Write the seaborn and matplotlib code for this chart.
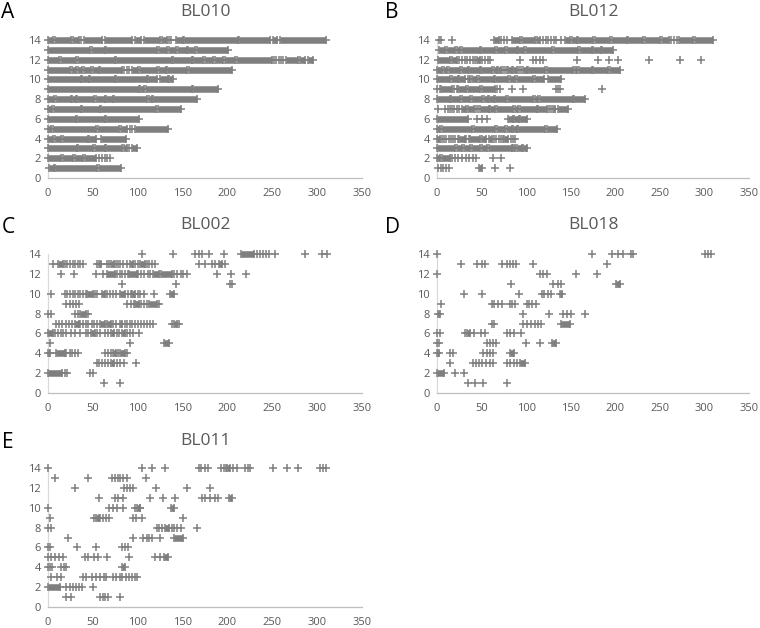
import matplotlib
matplotlib.use("Agg")
import matplotlib.pyplot as plt
import pandas as pd
import seaborn as sns

# ---------------- data ----------------
panel_titles = ["BL010", "BL012", "BL002", "BL018", "BL011"]
panel_letters = ["A", "B", "C", "D", "E"]
x_ticks = [0, 50, 100, 150, 200, 250, 300, 350]
y_ticks = [0, 2, 4, 6, 8, 10, 12, 14]

# dense runs of markers: (row, first x, last x)
BL010_blocks = [
    (14, 0, 5.6), (14, 7.4, 25.3), (14, 27.9, 34.3), (14, 40.2, 60.7), (14, 63.3, 93.1),
    (14, 96.8, 104.2), (14, 106.9, 124.7), (14, 127.3, 132.9), (14, 142.2, 150),
    (14, 151.5, 211.5), (14, 213, 247.6), (14, 250.6, 255.8), (14, 258.7, 310.1),
    (13, 0, 47.3), (13, 49.5, 63.3), (13, 64.4, 121.7), (13, 124, 132.9), (13, 135.1, 142.6),
    (13, 145.2, 154.5), (13, 156.4, 163.8), (13, 165.7, 201),
    (12, 0, 12.3), (12, 14.1, 30.9), (12, 33.5, 74.5), (12, 76.3, 137.8), (12, 139.6, 160.1),
    (12, 161.9, 173.1), (12, 175.4, 184.3), (12, 186.2, 194.8), (12, 197.4, 208.5),
    (12, 210.4, 249.5), (12, 264.8, 278.2), (12, 280.8, 286.4), (12, 290.1, 295.7),
    (11, 0, 24.9), (11, 27.2, 31.6), (11, 33.9, 38.3), (11, 40.6, 48.4), (11, 50.3, 57),
    (11, 58.5, 83), (11, 93.1, 100.5), (11, 102.4, 121.7), (11, 124, 131.4),
    (11, 132.9, 155.3), (11, 157.1, 205.5),
    (10, 0, 36.5), (10, 38.3, 45.8), (10, 47.3, 74.8), (10, 76.3, 109.8), (10, 111.6, 121),
    (10, 124.7, 133.3), (10, 135.1, 138.9),
    (9, 0, 101.6), (9, 103.1, 106.9), (9, 108.7, 160.1), (9, 162, 189.9),
    (8, 0, 6.7), (8, 8.6, 25.3), (8, 27.2, 30.9), (8, 32.8, 51.4), (8, 53.2, 63.3),
    (8, 65.1, 71.9), (8, 73.3, 110.6), (8, 112.5, 115.4), (8, 117.3, 165.7),
    (7, 0, 4.5), (7, 6.3, 36.5), (7, 38, 57.7), (7, 59.6, 120.3), (7, 122.1, 148.2),
    (6, 0, 30.9), (6, 32.8, 63.3), (6, 65.1, 101.6),
    (5, 0, 3.7), (5, 5.6, 54), (5, 55.8, 79.3), (5, 81.9, 88.6), (5, 96.8, 134),
    (4, 0, 5.6), (4, 7.8, 14.9), (4, 16.8, 44.7), (4, 45.8, 54), (4, 58.8, 86.4),
    (3, 0, 32.4), (3, 33.9, 50.3), (3, 52.9, 63.3), (3, 65.1, 83), (3, 84.9, 87.5),
    (3, 93.8, 98.7),
    (2, 0, 14.1), (2, 16.8, 27.9), (2, 30.1, 39.1), (2, 41.3, 54),
    (1, 1.1, 6.7), (1, 8.2, 55.1), (1, 56.6, 81.2),
]
BL010_points = {
    14: [37.2, 134.5, 137.5], 12: [252, 254.5, 257, 259.5, 262], 11: [85, 87.5, 90],
    5: [91, 93.5], 3: [90.5], 2: [57, 60, 63, 66, 69.5],
}

BL012_blocks = [
    (14, 63.4, 69.3), (14, 84, 93.3), (14, 95.1, 110.1), (14, 112, 115.7), (14, 143.7, 149.2),
    (14, 151, 156.8), (14, 158.5, 175.4), (14, 177.3, 194), (14, 195.9, 212.7),
    (14, 214.5, 231.3), (14, 233.2, 250), (14, 251.9, 260.1), (14, 271.7, 287.4),
    (14, 289.2, 309.7),
    (13, 1.9, 9.3), (13, 11.2, 20.5), (13, 22.4, 26.1), (13, 28, 47.8), (13, 49.6, 65.3),
    (13, 67.2, 76.5), (13, 78.4, 89.6), (13, 91.4, 97.8), (13, 99.6, 128.7),
    (13, 131.3, 158.6), (13, 160.4, 174.2), (13, 175.3, 183.5), (13, 185.4, 197.7),
    (12, 0.7, 14.9), (12, 16.8, 22.4), (12, 45, 48),
    (11, 0, 5.6), (11, 7.5, 11.2), (11, 13.1, 26.1), (11, 28, 34.3), (11, 36.2, 48.1),
    (11, 49.6, 61.9), (11, 63.8, 66.8), (11, 68.6, 71.6), (11, 80.2, 84), (11, 85.5, 90),
    (11, 96, 100.7), (11, 102.6, 121.3), (11, 123.9, 153), (11, 154.9, 157.5),
    (11, 159.8, 173.5), (11, 175.4, 192.1), (11, 194, 205.2),
    (10, 0, 14.9), (10, 16.8, 23.1), (10, 25, 31.7), (10, 34.3, 37.3), (10, 39.2, 44.8),
    (10, 46.6, 63.4), (10, 65.3, 80.2), (10, 82.1, 87.7), (10, 89.5, 108.2),
    (10, 110.1, 120.5), (10, 125, 138.9),
    (9, 4.5, 16.8), (9, 24, 32.8), (9, 34.3, 48.5), (9, 50.4, 65.3),
    (8, 0, 14.2), (8, 16, 26.1), (8, 28, 37.3), (8, 39.2, 50.4), (8, 52.2, 56.7),
    (8, 58.6, 63.4), (8, 65.3, 77.2), (8, 79.5, 108.2), (8, 110.1, 113.8), (8, 115.7, 152.2),
    (8, 154.1, 166),
    (7, 28, 33), (7, 35, 42), (7, 48, 58), (7, 60, 65.3), (7, 67.2, 85.8), (7, 87.7, 91.4),
    (7, 93.3, 112), (7, 113.8, 123.1), (7, 130.6, 132.4), (7, 136.1, 147.3),
    (6, 0, 34.3), (6, 80.2, 85), (6, 86.5, 92), (6, 93.5, 100.7),
    (5, 0, 3.7), (5, 5.6, 39.2), (5, 41, 65.3), (5, 67.2, 76.5), (5, 78.4, 83.9),
    (5, 85.8, 89.5), (5, 91.4, 121.3), (5, 123.1, 134.3),
    (4, 0, 3.7), (4, 24.5, 31), (4, 37, 48.5), (4, 50.4, 55.2), (4, 57.8, 62), (4, 75.5, 80),
    (3, 0, 20.5), (3, 22.4, 28), (3, 29.8, 37.3), (3, 39.2, 48.5), (3, 50.4, 56),
    (3, 57.8, 83.9), (3, 85.8, 87.7), (3, 89.5, 95.1), (3, 96.3, 100.7),
    (2, 0, 3.7), (2, 5.6, 14.2),
    (1, 46.6, 51),
]
BL012_points = {
    14: [1.9, 4.5, 16.8, 72, 75, 78, 119, 122, 125, 128, 131, 134, 139, 263, 266, 269],
    12: [25, 28, 31, 34, 37, 40, 43, 51, 54, 57, 60, 93.3, 108.2, 111.5, 115, 119,
         156.7, 181, 192.4, 203.6, 238, 272.3, 295.9],
    11: [74, 76.5, 79, 92, 94.5],
    9: [0.5, 3, 19.5, 22, 67.5, 70.5, 83.9, 97, 133, 135.5, 138.5, 184.7],
    7: [0.7, 9.5, 12, 14.5, 17, 19.5, 22, 24.5, 44, 46.5, 125.5, 128],
    6: [44.8, 51, 56],
    4: [5.5, 8, 10.5, 13, 15.5, 18, 20.5, 23, 33, 35.5, 64, 66.5, 69, 71.5, 74, 82.5, 85, 87],
    2: [17, 20, 24, 28, 32, 36, 40, 44, 63, 72],
    1: [1, 4, 7, 10, 13, 65.3, 82.1],
}

BL002_blocks = [
    (14, 215, 230), (13, 11.2, 16.8), (13, 56.5, 59), (13, 70.5, 73.5), (13, 91.5, 95.2),
    (13, 102.7, 108.3), (13, 190.5, 194.5),
    (12, 65.5, 75), (12, 90, 99), (12, 117, 124), (12, 126, 138),
    (10, 44, 50), (10, 59.8, 63.5), (10, 80.3, 86), (10, 94, 97), (10, 136.3, 140.8),
    (9, 97, 101.5), (9, 112.5, 121), (8, 36, 42),
    (7, 30, 34), (7, 58, 63), (7, 66, 70), (7, 80, 83), (7, 140, 144),
    (6, 0, 5.6), (6, 48, 52), (6, 70, 74), (6, 82, 86),
    (5, 129, 134.5),
    (4, 0, 2), (4, 9.3, 18.7), (4, 72, 76), (4, 80, 86),
    (3, 70, 74), (2, 0, 16),
]
BL002_points = {
    14: [104.8, 139.6, 164, 168, 172, 179.7, 195.8, 233, 236, 239.5, 243, 246, 253.4,
         286.3, 305, 310.7],
    13: [5.6, 18.7, 21.5, 24.5, 27.5, 30.5, 33.5, 36, 39.5, 54.2, 66.1, 68.5, 75.5, 78,
         80.3, 84, 87.7, 97, 100, 110, 113, 116, 119.5, 168, 175.5, 183, 186.5, 197.5],
    12: [14.9, 28.8, 53.4, 61.6, 77, 80, 83, 86, 89, 100.5, 104, 107.5, 111, 114, 140.5,
         144, 148, 151, 154.5, 187.9, 204.3, 221.1],
    11: [82.9, 142.7, 202.5, 205.5],
    10: [3, 18.7, 21.5, 24.5, 27.5, 30.5, 33.5, 36, 39, 42, 52, 55, 66, 69, 72, 76, 89,
         92.5, 100.5, 103, 106.5, 117.6],
    9: [20.5, 24, 27.5, 31, 34.5, 88.5, 92, 95.5, 103.5, 107, 110, 123.3],
    8: [0.5, 3.7, 29.9, 33, 44.5],
    7: [9.3, 12.5, 16, 19.6, 23, 26.5, 36, 39.5, 42, 45, 48.5, 51, 54.5, 72.5, 76, 85.5,
        88, 91.5, 94, 97.5, 100, 103.5, 107, 110, 113.5, 117, 138.5, 146],
    6: [7.5, 11, 14, 17, 20.5, 26, 30, 35.5, 42, 44.5, 55, 58, 63, 66.5, 76.5, 79, 88.5,
        91.5, 95, 101],
    5: [2.6, 91.5],
    4: [20.5, 24, 27, 30, 33.5, 63.5, 67, 70, 78, 88],
    3: [54.2, 57, 60, 63, 66.5, 77, 80.5, 85, 98],
    2: [18.7, 21.4, 46.7, 50.4],
    1: [62.4, 80.3],
}

BL018_blocks = [
    (11, 201, 205), (10, 138, 140.5), (8, 0.7, 3.4), (7, 139, 149.5), (6, 34, 37),
    (5, 128.6, 134), (4, 0.4, 2.6), (4, 82, 86), (3, 93, 99), (2, 0, 8.2),
]
BL018_points = {
    14: [0.4, 174.2, 196.7, 203.4, 209, 217.6, 219.5, 300.6, 304, 307.5],
    13: [26.9, 44.5, 50.1, 53.8, 73, 79, 82, 85, 89, 108, 190.3],
    12: [0.4, 115.5, 119, 123, 155.9, 179.8],
    11: [83, 130.5, 135.5, 139],
    10: [30.7, 50.1, 92.4, 117.4, 120.5, 124.5, 128],
    9: [4.5, 61.3, 64, 68.5, 72.5, 82, 84.5, 88, 100.6, 103, 107, 111],
    8: [96, 126, 141, 145.4, 150, 166],
    7: [62, 64.5, 96, 100.5, 105, 110, 113, 117],
    6: [0.4, 3.4, 31.4, 42, 49.6, 53.8, 78, 82, 86.7, 94.2],
    5: [0.4, 2, 55.7, 59, 62.5, 66.5, 99.5, 115.5],
    4: [14.6, 18, 52, 56, 59.5, 63],
    3: [14.6, 40.8, 44, 47, 51, 55, 59, 63, 78, 82, 86, 90],
    2: [20.2, 30.7],
    1: [35, 42.6, 52, 78],
}

BL011_blocks = [
    (14, 200, 203), (11, 201.5, 205), (10, 99, 102), (10, 137.5, 140), (9, 53, 56.5),
    (8, 130, 135), (7, 140, 150), (5, 129, 134), (4, 82.5, 86), (2, 0, 13),
]
BL011_points = {
    14: [0, 104.5, 115.7, 130.6, 168, 171, 174.5, 178.5, 193, 196, 198.5, 206.5, 210.5,
         219.5, 222.5, 225, 250.7, 266.8, 278.7, 303.5, 306.5, 309.7],
    13: [7.5, 44.8, 71, 74.5, 77.5, 80.5, 84, 88, 109.3],
    12: [29.8, 84.7, 88, 91, 95, 120.5, 154.8, 181],
    11: [57, 74.6, 78, 83.9, 113.8, 128.7, 141.8, 171.6, 175, 180.4, 186, 190],
    10: [0, 68.3, 73, 77, 84, 97, 103],
    9: [1.9, 51, 58, 61, 64.5, 68, 94.4, 98.5, 104.5, 151],
    8: [0, 3.7, 121, 124, 127, 138, 141, 144, 148, 166],
    7: [22.4, 95, 106, 110, 113, 116, 125],
    6: [0, 2.6, 32.5, 54, 82, 85.5, 89.5],
    5: [0, 3, 7.5, 12, 16.8, 41, 45, 51, 56, 65.5, 90.6, 119, 125],
    4: [0, 2, 4.5, 14, 18, 20.5],
    3: [3.7, 10, 15, 39, 42, 48.5, 54, 57.5, 62, 65, 72.7, 76, 80, 83, 87, 90, 93.5, 96.5, 99],
    2: [20, 24.5, 28, 31, 34.5, 37.5, 50.4],
    1: [20.5, 26, 57.8, 61, 64, 67, 80.2],
}

panel_blocks = [BL010_blocks, BL012_blocks, BL002_blocks, BL018_blocks, BL011_blocks]
panel_points = [BL010_points, BL012_points, BL002_points, BL018_points, BL011_points]

# ---------------- style ----------------
sns.set_theme(style="white")
plt.rcParams["font.family"] = ["Open Sans", "DejaVu Sans"]

GRAY = "#7f7f7f"
TEXT = "#595959"

fig = plt.figure(figsize=(7.6, 6.28), dpi=100)

H = 628.0
W = 760.0
# (left px, right px, top px(y=14), bottom px(y=0))
boxes = [(48, 362, 40, 178), (437, 749, 40, 178),
         (48, 362, 254, 393), (437, 749, 254, 393),
         (48, 362, 468, 607)]
title_y = [12, 12, 225, 225, 441]
letter_pos = [(8, 12), (392, 12), (8, 228), (392, 228), (8, 442)]

for i in range(5):
    l, r, t, b = boxes[i]
    ax = fig.add_axes([l / W, 1 - b / H, (r - l) / W, (b - t) / H])
    blocks = panel_blocks[i]
    points = panel_points[i]

    rows = [(x, row) for row, xs in points.items() for x in xs]
    rows += [(s, row) for row, s, e in blocks] + [(e, row) for row, s, e in blocks]
    df = pd.DataFrame(rows, columns=["x", "y"])
    sns.scatterplot(data=df, x="x", y="y", marker="+", s=28, color=GRAY,
                    linewidth=1.1, ax=ax, legend=False, clip_on=False, zorder=3)
    if blocks:
        ax.hlines([row for row, s, e in blocks], [s for row, s, e in blocks],
                  [e for row, s, e in blocks], colors=GRAY, linewidth=4.7,
                  capstyle="butt", zorder=3, clip_on=False)

    ax.set_xlim(0, 350)
    ax.set_ylim(0, 14)
    ax.set_xticks(x_ticks)
    ax.set_yticks(y_ticks)
    ax.set_xlabel("")
    ax.set_ylabel("")
    ax.tick_params(axis="both", length=0, labelsize=8, labelcolor=TEXT)
    ax.tick_params(axis="x", pad=7)
    ax.tick_params(axis="y", pad=5)
    for side in ["top", "right"]:
        ax.spines[side].set_visible(False)
    ax.spines["bottom"].set_color("#bfbfbf")
    ax.spines["bottom"].set_linewidth(0.9)
    ax.spines["left"].set_color("#d9d9d9")
    ax.spines["left"].set_linewidth(0.9)
    ax.spines["left"].set_zorder(1)
    ax.patch.set_alpha(0)

    fig.text((l + r) / 2 / W, 1 - title_y[i] / H, panel_titles[i], ha="center",
             va="center", fontsize=12.5, color=TEXT)
    lx, ly = letter_pos[i]
    fig.text(lx / W, 1 - ly / H, panel_letters[i], ha="center", va="center",
             fontsize=15, color="black")

fig.savefig("out.png", dpi=100)
